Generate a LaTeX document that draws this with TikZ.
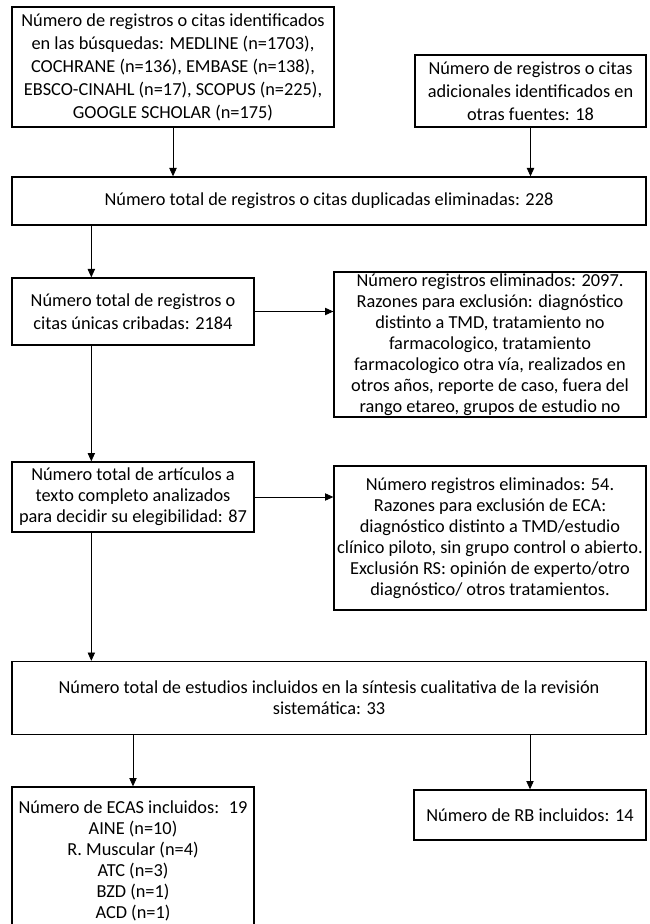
\documentclass[tikz,border=0pt]{standalone}
\usepackage{fontspec}
\setmainfont{Carlito}
\usetikzlibrary{arrows.meta}
\tikzset{
  caja/.style={draw, line width=0.8pt, rectangle, align=center, inner sep=0pt,
    font=\fontsize{11}{12.6}\selectfont},
  cajaalta/.style={caja, font=\fontsize{11}{13.8}\selectfont},
  flecha/.style={line width=0.5pt, -{Triangle[length=5pt, width=4.4pt]}}
}
\begin{document}
\begin{tikzpicture}[x=0.6pt, y=-0.6pt]
  \useasboundingbox (0,0) rectangle (649,924);
  \node[cajaalta, minimum width=193.2pt, minimum height=72pt] (fuentes) at (173,67)
    {N\'umero de registros o citas identificados\\en las b\'usquedas: MEDLINE (n=1703),\\COCHRANE (n=136), EMBASE (n=138),\\EBSCO-CINAHL (n=17), SCOPUS (n=225),\\GOOGLE SCHOLAR (n=175)};
  \node[cajaalta, minimum width=138.6pt, minimum height=43.2pt] (adicional) at (530.5,91)
    {N\'umero de registros o citas\\adicionales identificados en\\otras fuentes: 18};
  \node[caja, minimum width=380.4pt, minimum height=28.8pt] (duplic) at (329,201)
    {N\'umero total de registros o citas duplicadas eliminadas: 228};
  \node[cajaalta, minimum width=145.2pt, minimum height=40.2pt] (cribadas) at (133,311.5)
    {N\'umero total de registros o\\citas \'unicas cribadas: 2184};
  \node[caja, minimum width=187.2pt, minimum height=87pt] (elim1) at (490,344.5)
    {N\'umero registros eliminados: 2097.\\Razones para exclusi\'on: diagn\'ostico\\distinto a TMD, tratamiento no\\farmacologico, tratamiento\\farmacologico otra v\'ia, realizados en\\otros a\~nos, reporte de caso, fuera del\\rango etareo, grupos de estudio no};
  \node[caja, minimum width=145.2pt, minimum height=42pt] (texto) at (133,497)
    {N\'umero total de art\'iculos a\\texto completo analizados\\para decidir su elegibilidad: 87};
  \node[caja, minimum width=187.2pt, minimum height=86.4pt] (elim2) at (490,538)
    {N\'umero registros eliminados: 54.\\Razones para exclusi\'on de ECA:\\diagn\'ostico distinto a TMD/estudio\\cl\'inico piloto, sin grupo control o abierto.\\Exclusi\'on RS: opini\'on de experto/otro\\diagn\'ostico/ otros tratamientos.};
  \node[caja, minimum width=380.4pt, minimum height=43.8pt] (total) at (329,698)
    {N\'umero total de estudios incluidos en la s\'intesis cualitativa de la revisi\'on\\sistem\'atica: 33};
  \node[caja, minimum width=145.2pt, minimum height=88.2pt] (ecas) at (133,860.5)
    {N\'umero de ECAS incluidos: \ 19\\AINE (n=10)\\R. Muscular (n=4)\\ATC (n=3)\\BZD (n=1)\\ACD (n=1)};
  \node[caja, minimum width=139.2pt, minimum height=30pt] (rb) at (530,815)
    {N\'umero de RB incluidos: 14};
  \coordinate (eje) at ([xshift=48pt]cribadas.north west);
  \draw[flecha] (fuentes.south) -- (fuentes.south |- duplic.north);
  \draw[flecha] (adicional.south) -- (adicional.south |- duplic.north);
  \draw[flecha] (eje |- duplic.south) -- (eje);
  \draw[flecha] (cribadas.east) -- (cribadas.east -| elim1.west);
  \draw[flecha] (eje |- cribadas.south) -- (eje |- texto.north);
  \draw[flecha] (texto.east) -- (texto.east -| elim2.west);
  \draw[flecha] (eje |- texto.south) -- (eje |- total.north);
  \draw[flecha] (ecas.north |- total.south) -- (ecas.north);
  \draw[flecha] (rb.north |- total.south) -- (rb.north);
\end{tikzpicture}
\end{document}
